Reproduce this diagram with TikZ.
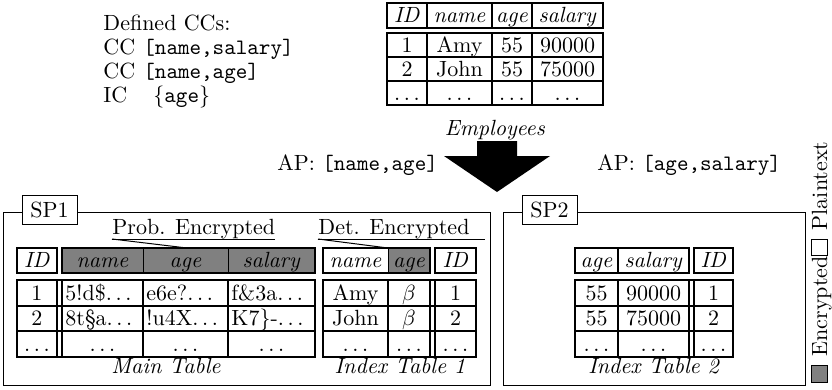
\documentclass[tikz,border=0pt]{standalone}
\newcommand{\mydots}{\ensuremath{\ldots}}
\begin{document}
\begin{tikzpicture}[x=0.4545pt,y=-0.4545pt,
  bw/.style={line width=1.3pt},
  cw/.style={line width=0.9pt},
  tw/.style={line width=0.45pt},
  t/.style={anchor=base, inner sep=0pt},
  tl/.style={anchor=base west, inner sep=0pt},
  lab/.style={draw, line width=0.45pt, fill=white, minimum width=25pt, minimum height=13.6pt, inner sep=0pt},
  spbox/.style={draw, line width=0.45pt}]
\useasboundingbox (0,0) rectangle (832,389);

% Defined CCs
\node[tl] (dcc) at (103,30) {Defined CCs:};
\node[tl] (c1) at (103,54) {CC};
\node[tl] (c1v) at (143,54) {\texttt{[name,salary]}};
\node[tl] (c2) at (103,78) {CC};
\node[tl] (c2v) at (143,78) {\texttt{[name,age]}};
\node[tl] (c3) at (103,102) {IC};
\node[tl] (c3v) at (153,102) {$\{$\texttt{age}$\}$};

% Employees table
\draw[bw] (387,3) rectangle (603,28);
\foreach \x in {427,492,532} \draw[cw] (\x,3) -- (\x,28);
\draw[bw] (387,33) rectangle (603,105);
\draw[bw] (387,57) -- (603,57);
\draw[bw] (387,81) -- (603,81);
\foreach \x in {427,492,532} \draw[cw] (\x,33) -- (\x,105);
\node[t] (eh1) at (407,22) {\textit{ID}};
\node[t] (eh2) at (459.5,22) {\textit{name}};
\node[t] (eh3) at (512,22) {\textit{age}};
\node[t] (eh4) at (567.5,22) {\textit{salary}};
\node[t] (e11) at (407,52) {1};
\node[t] (e12) at (459.5,52) {Amy};
\node[t] (e13) at (512,52) {55};
\node[t] (e14) at (567.5,52) {90000};
\node[t] (e21) at (407,76) {2};
\node[t] (e22) at (459.5,76) {John};
\node[t] (e23) at (512,76) {55};
\node[t] (e24) at (567.5,76) {75000};
\node[t] (e31) at (407,100) {\mydots};
\node[t] (e32) at (459.5,100) {\mydots};
\node[t] (e33) at (512,100) {\mydots};
\node[t] (e34) at (567.5,100) {\mydots};
\node[t] (emp) at (495,135) {\textit{Employees}};

% big arrow
\fill (477,141) -- (517,141) -- (517,156) -- (550,156) -- (497,192) -- (444,156) -- (477,156) -- cycle;

\node[tl] (ap1) at (277,170) {AP: \texttt{[name,age]}};
\node[tl] (ap2) at (597,170) {AP: \texttt{[age,salary]}};

% SP boxes
\draw[spbox] (3,212) rectangle (490,385);
\node[lab] (sp1) at (49.5,210) {SP1};
\draw[spbox] (503,212) rectangle (805,385);
\node[lab] (sp2) at (549.5,210) {SP2};

% labels
\node[tl] (prob) at (112,234) {Prob. Encrypted};
\draw[tw] (112,239) -- (275,239);
\draw[tw] (112,239) -- (187,248);
\node[tl] (det) at (318,234) {Det. Encrypted};
\draw[tw] (318,239) -- (485,239);
\draw[tw] (318,239) -- (388,248);

% Main table
\fill[gray] (62,248) rectangle (315,273);
\draw[bw] (17,248) rectangle (57,273);
\draw[bw] (62,248) rectangle (315,273);
\draw[tw] (143,248) -- (143,273);
\draw[tw] (228,248) -- (228,273);
\draw[bw] (17,280) rectangle (315,357);
\draw[bw] (17,306) -- (315,306);
\draw[bw] (17,331) -- (315,331);
\draw[bw] (57,280) -- (57,357);
\draw[bw] (62,280) -- (62,357);
\draw[cw] (143,280) -- (143,357);
\draw[cw] (228,280) -- (228,357);
\node[t] (mh1) at (37,267) {\textit{ID}};
\node[t] (mh2) at (102.5,267) {\textit{name}};
\node[t] (mh3) at (185.5,267) {\textit{age}};
\node[t] (mh4) at (271.5,267) {\textit{salary}};
\node[t] (m11) at (37,300) {1};
\node[tl] (m12) at (65,300) {5!d\$\mydots};
\node[tl] (m13) at (146,300) {e6e?\mydots};
\node[tl] (m14) at (231,300) {f\&3a\mydots};
\node[t] (m21) at (37,325) {2};
\node[tl] (m22) at (65,325) {8t\S a\mydots};
\node[tl] (m23) at (146,325) {!u4X\mydots};
\node[tl] (m24) at (231,325) {K7\}-\mydots};
\node[t] (m31) at (37,351) {\mydots};
\node[t] (m32) at (102.5,351) {\mydots};
\node[t] (m33) at (185.5,351) {\mydots};
\node[t] (m34) at (271.5,351) {\mydots};
\node[t] (mcap) at (166,373) {\textit{Main Table}};

% Index table 1
\fill[gray] (388,248) rectangle (430,273);
\draw[bw] (323,248) rectangle (430,273);
\draw[tw] (388,248) -- (388,273);
\draw[bw] (435,248) rectangle (476,273);
\draw[bw] (323,280) rectangle (476,357);
\draw[bw] (323,306) -- (476,306);
\draw[bw] (323,331) -- (476,331);
\draw[cw] (388,280) -- (388,357);
\draw[bw] (430,280) -- (430,357);
\draw[bw] (435,280) -- (435,357);
\node[t] (ah1) at (355.5,267) {\textit{name}};
\node[t] (ah2) at (409,267) {\textit{age}};
\node[t] (ah3) at (455.5,267) {\textit{ID}};
\node[t] (a11) at (355.5,300) {Amy};
\node[t] (a12) at (409,300) {$\beta$};
\node[t] (a13) at (455.5,300) {1};
\node[t] (a21) at (355.5,325) {John};
\node[t] (a22) at (409,325) {$\beta$};
\node[t] (a23) at (455.5,325) {2};
\node[t] (a31) at (355.5,351) {\mydots};
\node[t] (a32) at (409,351) {\mydots};
\node[t] (a33) at (455.5,351) {\mydots};
\node[t] (acap) at (400,373) {\textit{Index Table 1}};

% Index table 2
\draw[bw] (575,248) rectangle (689,273);
\draw[cw] (618,248) -- (618,273);
\draw[bw] (694,248) rectangle (733,273);
\draw[bw] (575,280) rectangle (733,357);
\draw[bw] (575,306) -- (733,306);
\draw[bw] (575,331) -- (733,331);
\draw[cw] (618,280) -- (618,357);
\draw[bw] (689,280) -- (689,357);
\draw[bw] (694,280) -- (694,357);
\node[t] (bh1) at (596.5,267) {\textit{age}};
\node[t] (bh2) at (653.5,267) {\textit{salary}};
\node[t] (bh3) at (713.5,267) {\textit{ID}};
\node[t] (b11) at (596.5,300) {55};
\node[t] (b12) at (653.5,300) {90000};
\node[t] (b13) at (713.5,300) {1};
\node[t] (b21) at (596.5,325) {55};
\node[t] (b22) at (653.5,325) {75000};
\node[t] (b23) at (713.5,325) {2};
\node[t] (b31) at (596.5,351) {\mydots};
\node[t] (b32) at (653.5,351) {\mydots};
\node[t] (b33) at (713.5,351) {\mydots};
\node[t] (bcap) at (654,373) {\textit{Index Table 2}};

% legend
\node[rotate=90, anchor=base west, inner sep=0pt] (legend) at (827,383)
  {\setlength{\fboxsep}{0pt}\setlength{\fboxrule}{0.45pt}%
   \fcolorbox{black}{gray}{\rule{0pt}{7pt}\hspace{7pt}}\hspace{4pt}Encrypted\fcolorbox{black}{white}{\rule{0pt}{7pt}\hspace{7pt}}\hspace{4pt}Plaintext};
\end{tikzpicture}
\end{document}
